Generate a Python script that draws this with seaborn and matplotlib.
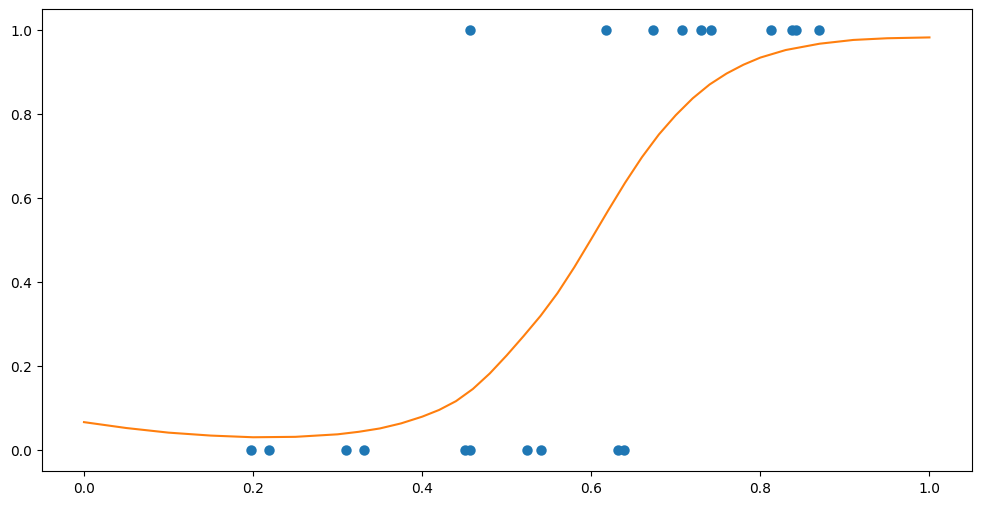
import matplotlib
matplotlib.use("Agg")
import matplotlib.pyplot as plt
import numpy as np
import seaborn as sns
import pandas as pd

# observed outcomes (0 / 1) at each x
x_zero = [0.198, 0.219, 0.310, 0.331, 0.451, 0.456, 0.524, 0.541, 0.632, 0.639]
x_one = [0.457, 0.618, 0.673, 0.707, 0.730, 0.742, 0.813, 0.837, 0.842, 0.869]

# fitted probability curve
curve_x = [0.0, 0.05, 0.10, 0.15, 0.20, 0.25, 0.30, 0.325, 0.35, 0.375, 0.40, 0.42,
           0.44, 0.46, 0.48, 0.50, 0.52, 0.54, 0.56, 0.58, 0.60, 0.62, 0.64, 0.66,
           0.68, 0.70, 0.72, 0.74, 0.76, 0.78, 0.80, 0.83, 0.87, 0.91, 0.95, 1.0]
curve_y = [0.067, 0.053, 0.042, 0.035, 0.031, 0.032, 0.038, 0.044, 0.052, 0.064,
           0.080, 0.096, 0.117, 0.146, 0.183, 0.226, 0.272, 0.320, 0.374, 0.436,
           0.503, 0.571, 0.637, 0.698, 0.752, 0.798, 0.838, 0.871, 0.897, 0.918,
           0.935, 0.953, 0.968, 0.977, 0.981, 0.983]

points = pd.DataFrame({
    "x": x_zero + x_one,
    "y": [0] * len(x_zero) + [1] * len(x_one),
})
curve = pd.DataFrame({"x": curve_x, "p": curve_y})

fig, ax = plt.subplots(figsize=(12, 6))
sns.scatterplot(data=points, x="x", y="y", color="tab:blue", edgecolor="tab:blue",
                linewidth=1.5, s=36, ax=ax)
sns.lineplot(data=curve, x="x", y="p", color="tab:orange", linewidth=1.5, ax=ax)
ax.set_xlabel("")
ax.set_ylabel("")

plt.savefig("out.png", dpi=100, bbox_inches="tight")
